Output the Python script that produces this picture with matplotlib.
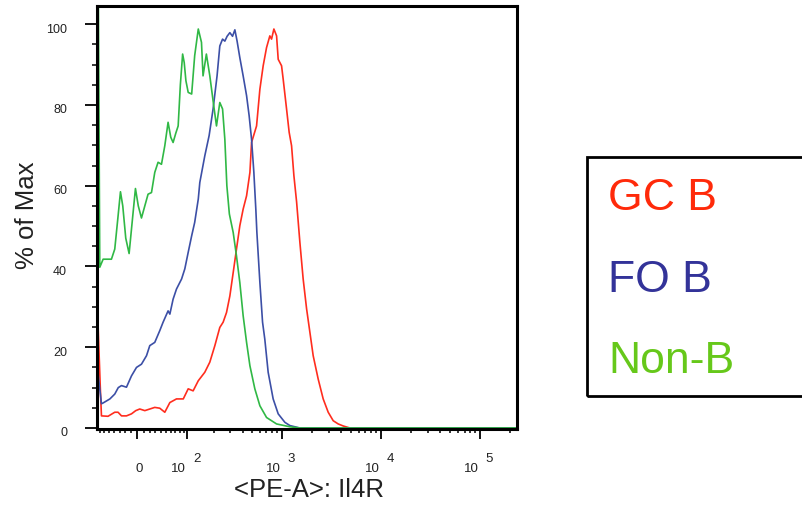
import matplotlib
matplotlib.use('Agg')
import matplotlib.pyplot as plt
import numpy as np
from matplotlib.transforms import offset_copy, ScaledTranslation
from matplotlib.patches import Rectangle
from matplotlib.ticker import FixedLocator, NullFormatter

plt.rcParams['font.family'] = ['Liberation Sans', 'DejaVu Sans']

# ---------------- data (fluorescence intensity, % of max) ----------------
series_names = ['GC B', 'FO B', 'Non-B']

red_x = [-76, -74, -68.3, -65.7, -51.7, -38.7, -32.7, -26.6, -18.1, -9.8, -2.8, 3.7, 12, 20.3,
         28.9, 37.9, 47.5, 57.8, 72.5, 89.4, 103, 118, 135.3, 160, 181.5, 205.6, 232, 251.5,
         272.8, 295.5, 320, 346, 374.5, 405, 439, 475, 493.5, 555, 600, 648, 701, 757, 788,
         832, 886, 920, 995, 1033, 1118, 1188, 1256, 1326, 1412, 1524, 1645, 1782, 1924, 2077,
         2334, 2621, 2945, 3308, 3717, 4174, 4877, 237000]
red_y = [0, 27, 10, 3.0, 2.9, 3.9, 3.9, 3.0, 3.0, 3.5, 4.3, 4.7, 4.3, 4.7,
         5.1, 4.9, 3.9, 6.3, 7.2, 7.2, 9.7, 9.2, 11.7, 13.8, 16.3, 20.4, 24.9, 26.2,
         28.6, 32.7, 38.5, 44.3, 50.1, 54.2, 57.5, 63.3, 70.7, 74.8, 83.9, 89.7, 94.2, 97.1, 96.3,
         98.8, 97.1, 91.3, 89.7, 86.4, 79, 73.2, 69.9, 62.5, 56, 46, 36.9, 29.5, 23.7, 17.9,
         12.1, 7.2, 3.9, 1.8, 1.0, 0.5, 0, 0]

blue_x = [-76, -74, -65.7, -62, -48, -38.7, -32.3, -26.6, -18.1, -9.8, -1.6, 6.5, 14.8, 20.3,
          28.9, 37.9, 44.2, 54.1, 57.8, 64.8, 72.5, 85, 93.5, 103, 113.4, 123, 135.3, 140.8,
          160, 178.4, 196.8, 217, 232, 248, 262, 276.6, 295.5, 315, 333, 351, 374.5, 405, 439,
          466.5, 493.5, 521, 546, 559, 600, 638.6, 673, 728, 818, 920, 1075, 1208, 1524, 237000]
blue_y = [0, 14, 6.0, 6.2, 7.2, 8.4, 10, 10.5, 10.1, 12.9, 15, 15.8, 17.9, 20.4,
          21.2, 24.1, 26.2, 29, 28.2, 31.9, 34.4, 36.9, 39.4, 43.5, 47.6, 50.9, 56.7, 60.8,
          67.4, 72.4, 79, 87.2, 94.6, 96.3, 95.8, 97, 97.9, 97, 98.6, 95.8, 91.7, 87.2, 82.3,
          77.3, 71.5, 63.3, 54, 48.5, 36, 26.2, 22, 13.8, 7.2, 3.5, 1.4, 0.6, 0, 0]

green_x = [-76, -74, -69.5, -62, -45, -38.7, -33, -28.4, -24.4, -19.3, -13.7, -9.3, -3.3, 1.3,
           6.5, 12, 17.4, 23.2, 28.9, 34.8, 41.1, 47.5, 54.1, 59.7, 64.8, 70.9, 76.5, 81.9,
           87.7, 91.9, 96.5, 103, 113.4, 123, 135.3, 147, 153, 166.5, 181.5, 200, 214, 232,
           248, 262, 275, 292, 320, 346, 374.5, 405, 439, 475, 533, 600, 701, 886, 1208, 1524,
           237000]
green_y = [0, 130, 39.8, 41.8, 41.8, 44.3, 52, 58.5, 55, 47, 43.2, 50, 59.3, 55,
           52, 55, 57.9, 58.3, 63.3, 65.8, 65.3, 69.9, 75.7, 72, 70.7, 73, 74.8, 85,
           92.6, 90.5, 86, 83.1, 82.7, 92.2, 98.8, 95.5, 87.2, 92.6, 87.2, 79.8, 74.8, 80.6,
           79, 71.5, 60, 53, 48.4, 42.6, 36, 27.8, 21.2, 15.4, 9.7, 5.5, 2.6, 1.0, 0.3, 0,
           0]

xtick_vals = [0, 1e2, 1e3, 1e4, 1e5]
xtick_base = ['0', '10', '10', '10', '10']
xtick_exp = ['', '2', '3', '4', '5']
xminor_vals = [-70, -60, -50, -40, -30, -20, -10,
               10, 20, 30, 40, 50, 60, 70, 80, 90,
               200, 300, 400, 500, 600, 700, 800, 900,
               2000, 3000, 4000, 5000, 6000, 7000, 8000, 9000,
               20000, 30000, 40000, 50000, 60000, 70000, 80000, 90000, 200000]
ytick_vals = [0, 20, 40, 60, 80, 100]
ytick_labels = ['0', '20', '40', '60', '80', '100']

x_label = '<PE-A>: Il4R'
y_label = '% of Max'

line_colors = ['#ff2d1e', '#3c4fa6', '#30b845']
text_colors = ['#ff2a0a', '#333399', '#66c81a']

# ---------------- figure ----------------
fig = plt.figure(figsize=(8.03, 5.06), dpi=100)
fig.patch.set_facecolor('white')
ax = fig.add_axes([97/803, 76/506, 420/803, 423/506])

W = 70.0
def fwd(x):
    return np.arcsinh(np.asarray(x, dtype=float) / W)
def inv(y):
    return W * np.sinh(np.asarray(y, dtype=float))
ax.set_xscale('function', functions=(fwd, inv))

for xs, ys, c in zip([red_x, blue_x, green_x], [red_y, blue_y, green_y], line_colors):
    ax.plot(xs, ys, color=c, lw=1.2, solid_joinstyle='round')

ax.set_xlim(-76, 237000)
ax.set_ylim(-0.25, 104.5)

for s in ax.spines.values():
    s.set_linewidth(2.2)
    s.set_color('black')

ax.xaxis.set_major_locator(FixedLocator(xtick_vals))
ax.xaxis.set_minor_locator(FixedLocator(xminor_vals))
ax.xaxis.set_major_formatter(NullFormatter())
ax.xaxis.set_minor_formatter(NullFormatter())
ax.tick_params(axis='x', which='major', length=7, width=1.3, direction='out', color='black')
ax.tick_params(axis='x', which='minor', length=3.2, width=1.1, direction='out', color='black')

ax.set_yticks(ytick_vals)
ax.set_yticklabels(ytick_labels)
ax.yaxis.set_minor_locator(FixedLocator(np.arange(0, 101, 5)))
ax.tick_params(axis='y', which='major', length=8.5, width=1.3, direction='out', pad=13,
               labelsize=9, labelcolor='#222222')
ax.tick_params(axis='y', which='minor', length=3.6, width=1.1, direction='out')
for lab in ax.get_yticklabels():
    lab.set_transform(lab.get_transform() + ScaledTranslation(0, -3/100, fig.dpi_scale_trans))

trans = ax.get_xaxis_transform()
for v, b, e in zip(xtick_vals, xtick_base, xtick_exp):
    if e == '':
        t = offset_copy(trans, fig=fig, x=2, y=-41.7, units='dots')
        ax.text(v, 0, b, transform=t, ha='center', va='baseline', fontsize=9.5, color='#222222')
    else:
        t = offset_copy(trans, fig=fig, x=-1, y=-41.7, units='dots')
        ax.text(v, 0, b, transform=t, ha='right', va='baseline', fontsize=9.5, color='#222222')
        t2 = offset_copy(trans, fig=fig, x=6, y=-31.7, units='dots')
        ax.text(v, 0, e, transform=t2, ha='left', va='baseline', fontsize=9.5, color='#222222')

fig.text(309/803, (506-497)/506, x_label, ha='center', va='baseline', fontsize=18.5, color='#222222')
fig.text(27/803, (506-215)/506, y_label, ha='center', va='center', rotation=90,
         fontsize=18.5, color='#222222')

# legend box
rect = Rectangle((587/803, (506-396.5)/506), 0.3, 238.5/506, transform=fig.transFigure,
                 fill=False, lw=2.0, ec='black')
fig.add_artist(rect)
for name, c, by in zip(series_names, text_colors, [210, 291.7, 372.7]):
    fig.text(608/803, (506-by)/506, name, ha='left', va='baseline', fontsize=32, color=c)

fig.savefig('out.png', dpi=100)
